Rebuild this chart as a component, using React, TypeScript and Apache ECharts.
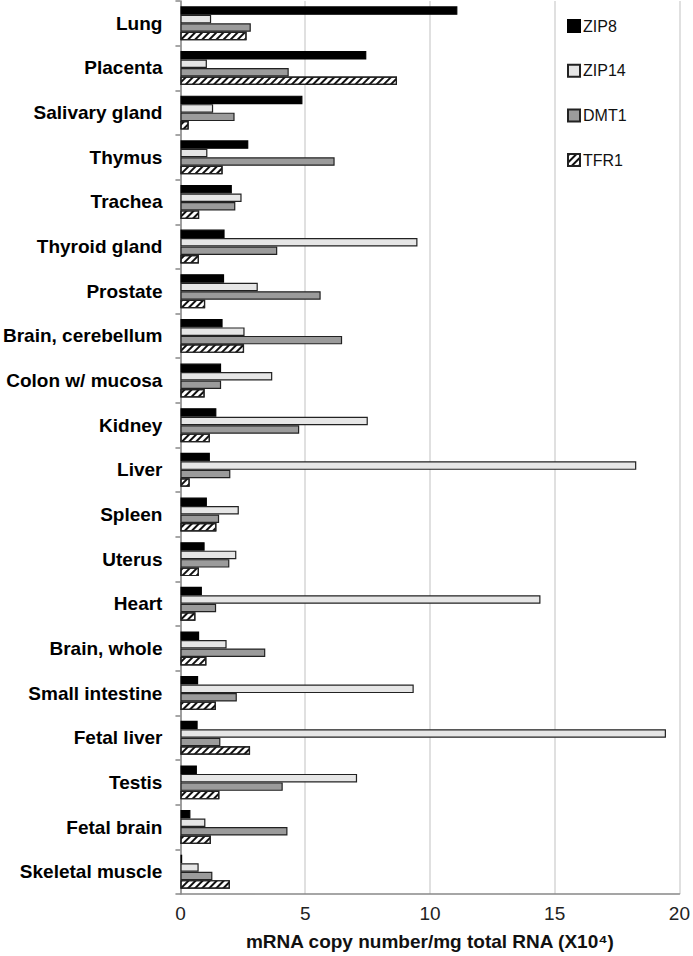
import React, { useEffect, useRef } from "react";
import * as echarts from "echarts";

const categories = [
  "Lung", "Placenta", "Salivary gland", "Thymus", "Trachea", "Thyroid gland",
  "Prostate", "Brain, cerebellum", "Colon w/ mucosa", "Kidney", "Liver", "Spleen",
  "Uterus", "Heart", "Brain, whole", "Small intestine", "Fetal liver", "Testis",
  "Fetal brain", "Skeletal muscle",
];
const zip8 = [11.1, 7.45, 4.89, 2.72, 2.06, 1.77, 1.75, 1.69, 1.63, 1.44, 1.18, 1.06, 0.97, 0.86, 0.75, 0.71, 0.69, 0.66, 0.4, 0.07];
const zip14 = [1.23, 1.06, 1.31, 1.08, 2.45, 9.5, 3.1, 2.57, 3.68, 7.51, 18.27, 2.34, 2.24, 14.43, 1.85, 9.35, 19.46, 7.08, 1.0, 0.73];
const dmt1 = [2.82, 4.34, 2.17, 6.18, 2.2, 3.88, 5.62, 6.48, 1.63, 4.76, 2.0, 1.55, 1.96, 1.43, 3.4, 2.26, 1.6, 4.1, 4.29, 1.28];
const tfr1 = [2.65, 8.68, 0.33, 1.69, 0.75, 0.74, 0.99, 2.55, 0.97, 1.18, 0.37, 1.44, 0.74, 0.6, 1.04, 1.42, 2.79, 1.56, 1.22, 1.98];
const xTicks = { min: 0, max: 20, interval: 5 };
const xName = "mRNA copy number/mg total RNA (X10\u2074)";

export default function App() {
  const ref = useRef<HTMLDivElement>(null);
  useEffect(() => {
    if (!ref.current) return;
    const chart = echarts.init(ref.current, null, { renderer: "svg" });
    const border = { borderColor: "#222", borderWidth: 1.2 };
    chart.setOption({
      animation: false,
      backgroundColor: "#fff",
      textStyle: { fontFamily: "Liberation Sans, Arial, sans-serif" },
      grid: { left: 177, top: 1, width: 504, height: 893, containLabel: false },
      legend: {
        orient: "vertical",
        left: 562,
        top: 13,
        icon: "rect",
        itemWidth: 12,
        itemHeight: 12,
        itemGap: 28.7,
        textStyle: { fontSize: 16, color: "#111", lineHeight: 16, padding: [0, 0, 0, -2] },
        data: ["ZIP8", "ZIP14", "DMT1", "TFR1"],
      },
      xAxis: {
        type: "value",
        min: xTicks.min,
        max: xTicks.max,
        interval: xTicks.interval,
        axisLine: { show: true, lineStyle: { color: "#888", width: 1.5 } },
        axisTick: { show: false },
        axisLabel: { fontSize: 19, color: "#222", margin: 10 },
        splitLine: { show: true, lineStyle: { color: "#d6d6d6", width: 1.5 } },
        name: xName,
        nameLocation: "middle",
        nameGap: 38,
        nameTextStyle: { fontSize: 19, fontWeight: "bold", color: "#111" },
      },
      yAxis: {
        type: "category",
        data: categories,
        inverse: true,
        axisLine: { show: true, lineStyle: { color: "#888", width: 1.5 } },
        axisTick: { show: true, length: 5, lineStyle: { color: "#888", width: 1.5 } },
        axisLabel: { fontSize: 19, fontWeight: "bold", color: "#000", margin: 18 },
        splitLine: { show: false },
      },
      series: [
        {
          name: "ZIP8", type: "bar", data: zip8,
          barGap: "0%", barCategoryGap: "24%",
          itemStyle: { color: "#000", borderColor: "#000", borderWidth: 1.2 },
        },
        {
          name: "ZIP14", type: "bar", data: zip14,
          barGap: "0%", barCategoryGap: "24%",
          itemStyle: { color: "#e6e6e6", ...border },
        },
        {
          name: "DMT1", type: "bar", data: dmt1,
          barGap: "0%", barCategoryGap: "24%",
          itemStyle: { color: "#9b9b9b", ...border },
        },
        {
          name: "TFR1", type: "bar", data: tfr1,
          barGap: "0%", barCategoryGap: "24%",
          itemStyle: {
            color: "#fff",
            ...border,
            decal: {
              symbol: "rect",
              symbolSize: 1,
              dashArrayX: [1, 0],
              dashArrayY: [2, 2.5],
              rotation: -Math.PI / 4,
              color: "#111",
            },
          },
        },
      ],
    });
    return () => chart.dispose();
  }, []);
  return (
    <div
      ref={ref}
      style={{ position: "fixed", left: 0, top: 0, width: 693, height: 956 }}
    />
  );
}
